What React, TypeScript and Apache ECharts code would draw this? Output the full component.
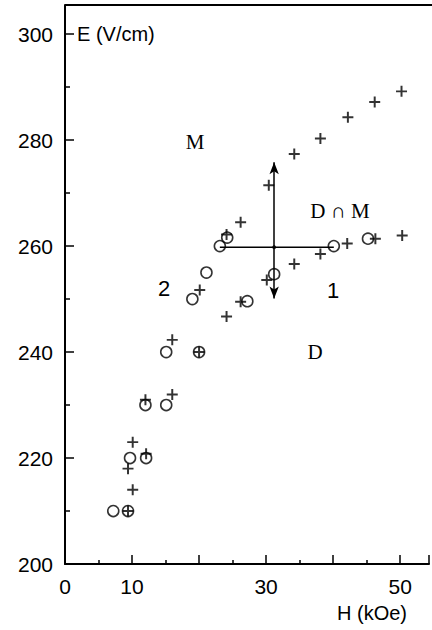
import React, { useEffect, useRef } from 'react';
import * as echarts from 'echarts';

// Data
const crossPoints: [number, number][] = [
  [9.4, 210], [10.1, 214], [9.4, 218], [10.1, 223], [12.1, 220.8],
  [12.0, 231], [16.0, 232], [16.0, 242.3], [20.0, 240], [20.1, 251.7],
  [24.1, 246.7], [26.2, 249.5], [24.1, 262.2], [26.2, 264.5], [30.1, 253.6],
  [30.4, 271.5], [34.2, 256.6], [38.1, 258.5], [42.1, 260.5], [46.3, 261.4],
  [50.3, 262.0], [34.2, 277.4], [38.1, 280.3], [42.2, 284.3], [46.2, 287.2],
  [50.2, 289.2],
];
const circlePoints: [number, number][] = [
  [7.2, 210], [9.4, 210], [9.7, 220], [12.1, 220], [12.0, 230], [15.1, 230],
  [15.1, 240], [20.0, 240], [19.0, 250], [21.1, 255], [23.1, 260], [24.2, 261.6],
  [27.2, 249.6], [31.2, 254.7], [40.1, 260], [45.2, 261.4],
];
const xTickLabels = [0, 10, 30, 50];
const yTickLabels = [200, 220, 240, 260, 280, 300];
const hBar: [number, number][] = [[23.1, 259.8], [40.1, 259.8]];
const vArrowFrom: [number, number] = [31.2, 250.1];
const vArrowTo: [number, number] = [31.2, 275.8];
const centerDot: [number, number][] = [[31.2, 259.8]];

const PLUS = 'path://M4.1 0H5.9V4.1H10V5.9H5.9V10H4.1V5.9H0V4.1H4.1Z';
const SANS = '"Liberation Sans", Arial, sans-serif';
const SERIF = '"Liberation Serif", "Times New Roman", serif';

export default function App() {
  const ref = useRef<HTMLDivElement>(null);
  useEffect(() => {
    if (!ref.current) return;
    const chart = echarts.init(ref.current, undefined, { renderer: 'svg' });
    chart.setOption({
      animation: false,
      backgroundColor: '#fff',
      grid: { left: 65, top: 5, right: 0, bottom: 66, containLabel: false },
      xAxis: {
        type: 'value', min: 0, max: 54.3, interval: 10,
        axisLine: { show: true, onZero: false, lineStyle: { color: '#000', width: 2 } },
        axisTick: { show: true, inside: true, length: 9, lineStyle: { color: '#000', width: 1.5 } },
        minorTick: { show: true, splitNumber: 2, length: 4, lineStyle: { color: '#000', width: 1.5 } },
        splitLine: { show: false },
        axisLabel: {
          show: true, margin: 12, color: '#000', fontSize: 21, fontFamily: SANS,
          formatter: (v: number) => (xTickLabels.includes(v) ? String(v) : ''),
        },
      },
      yAxis: {
        type: 'value', min: 200, max: 305.5, interval: 20,
        axisLine: { show: true, onZero: false, lineStyle: { color: '#000', width: 2 } },
        axisTick: { show: true, inside: true, length: 9, lineStyle: { color: '#000', width: 1.5 } },
        minorTick: { show: true, splitNumber: 2, length: 5, lineStyle: { color: '#000', width: 1.5 } },
        splitLine: { show: false },
        axisLabel: {
          show: true, margin: 12, color: '#000', fontSize: 21, fontFamily: SANS,
          formatter: (v: number) => (yTickLabels.includes(v) ? String(v) : ''),
        },
      },
      series: [
        {
          type: 'line', data: hBar, showSymbol: false, silent: true,
          lineStyle: { color: '#000', width: 1.5 },
          markLine: {
            silent: true, symbol: ['arrow', 'arrow'], symbolSize: [7, 12],
            label: { show: false },
            lineStyle: { color: '#000', width: 1.5, type: 'solid' },
            data: [[{ coord: vArrowFrom }, { coord: vArrowTo }]],
          },
        },
        {
          type: 'scatter', data: centerDot, symbol: 'circle', symbolSize: 4, silent: true,
          itemStyle: { color: '#000' },
        },
        {
          type: 'scatter', data: circlePoints, symbol: 'circle', symbolSize: 11, silent: true,
          itemStyle: { color: 'rgba(0,0,0,0)', borderColor: '#000', borderWidth: 1.6 },
        },
        {
          type: 'scatter', data: crossPoints, symbol: PLUS, symbolSize: 11, silent: true,
          itemStyle: { color: '#000' },
        },
      ],
      graphic: [
        { type: 'line', shape: { x1: 65, y1: 5, x2: 432, y2: 5 }, style: { stroke: '#000', lineWidth: 2 } },
        { type: 'text', x: 77, y: 34, style: { text: 'E (V/cm)', font: `20px ${SANS}`, fill: '#000', textVerticalAlign: 'middle' } },
        { type: 'text', x: 407, y: 613, style: { text: 'H (kOe)', font: `20px ${SANS}`, fill: '#000', textAlign: 'right', textVerticalAlign: 'middle' } },
        { type: 'text', x: 195, y: 142, style: { text: 'M', font: `21px ${SERIF}`, fill: '#000', textAlign: 'center', textVerticalAlign: 'middle' } },
        { type: 'text', x: 340, y: 211, style: { text: 'D ∩ M', font: `21px ${SERIF}`, fill: '#000', textAlign: 'center', textVerticalAlign: 'middle' } },
        { type: 'text', x: 164, y: 288, style: { text: '2', font: `22px ${SANS}`, fill: '#000', textAlign: 'center', textVerticalAlign: 'middle' } },
        { type: 'text', x: 333, y: 290, style: { text: '1', font: `22px ${SANS}`, fill: '#000', textAlign: 'center', textVerticalAlign: 'middle' } },
        { type: 'text', x: 315, y: 352, style: { text: 'D', font: `21px ${SERIF}`, fill: '#000', textAlign: 'center', textVerticalAlign: 'middle' } },
      ],
    });
    return () => chart.dispose();
  }, []);
  return <div ref={ref} style={{ width: 432, height: 630, position: 'fixed', left: 0, top: 0 }} />;
}
